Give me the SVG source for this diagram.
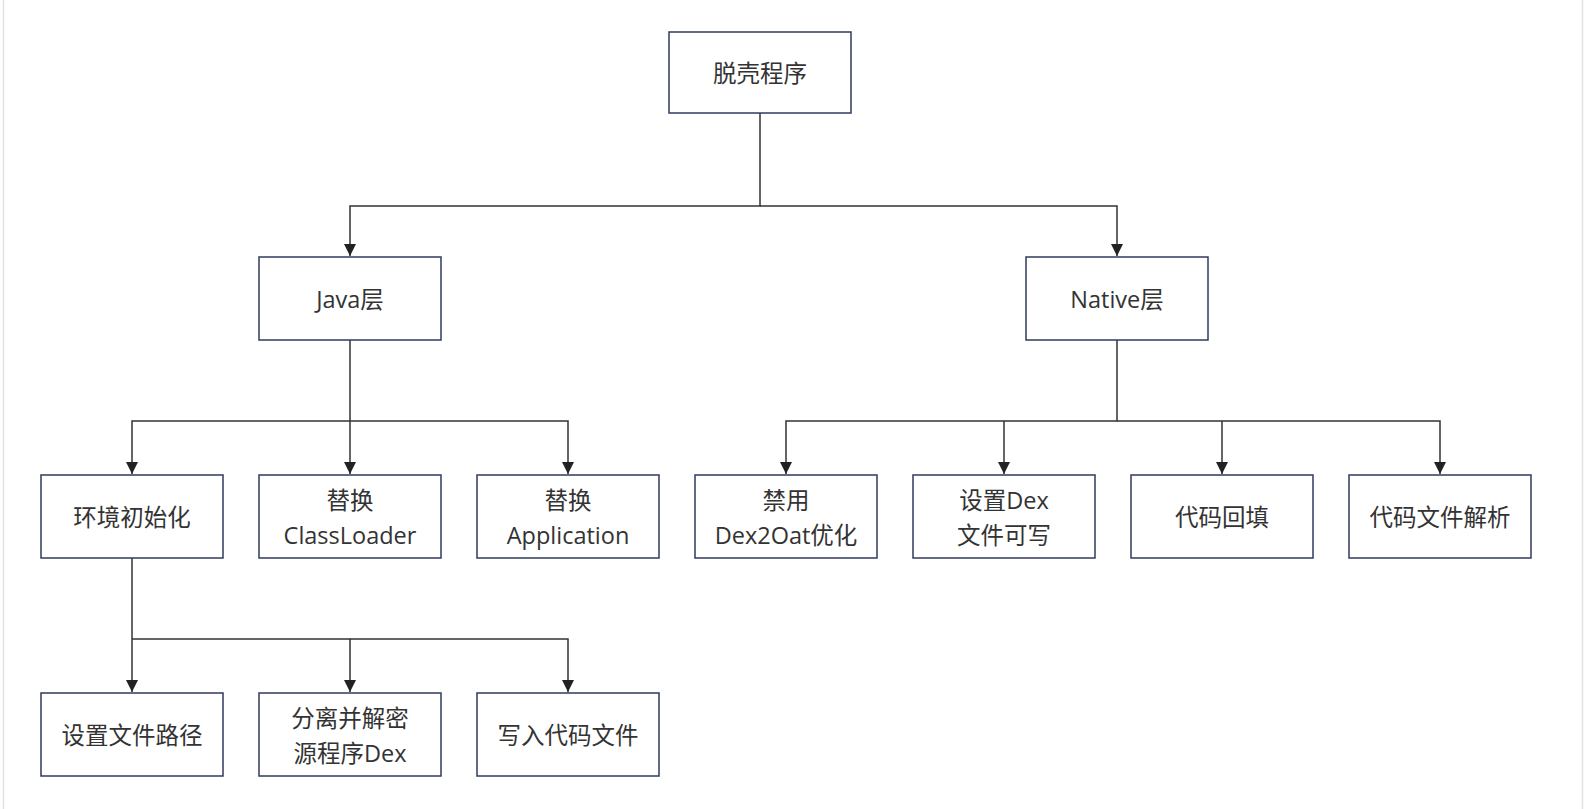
<svg xmlns="http://www.w3.org/2000/svg" width="1584" height="809" viewBox="0 0 1584 809">
<style>
.n rect{fill:#fff;stroke:#2f3a5e;stroke-width:1.5}
.n text{font-family:"Open Sans","Noto Sans CJK SC",sans-serif;font-size:23.5px;fill:#333;text-anchor:middle}
.c path{fill:none;stroke:#333;stroke-width:1.5}
</style>
<defs>
<marker id="a" markerWidth="12" markerHeight="12" refX="10" refY="5" orient="auto" markerUnits="userSpaceOnUse" viewBox="0 0 10 10">
<path d="M0,0 L10,5 L0,10 Z" fill="#222"/>
</marker>
</defs>
<rect x="0" y="0" width="1584" height="809" fill="#fff"/>
<line x1="3.5" y1="0" x2="3.5" y2="809" stroke="#e2e2e2" stroke-width="1.5"/>
<line x1="1582.5" y1="0" x2="1582.5" y2="809" stroke="#e2e2e2" stroke-width="1.5"/>
<g class="c" id="connectors">
<path d="M760,113 V206 H350 V256" marker-end="url(#a)"/>
<path d="M760,206 H1117 V256" marker-end="url(#a)"/>
<path d="M350,340 V474" marker-end="url(#a)"/>
<path d="M350,421 H132 V474" marker-end="url(#a)"/>
<path d="M350,421 H568 V474" marker-end="url(#a)"/>
<path d="M1117,340 V421 H786 V474" marker-end="url(#a)"/>
<path d="M1117,421 H1440 V474" marker-end="url(#a)"/>
<path d="M1004,421 V474" marker-end="url(#a)"/>
<path d="M1222,421 V474" marker-end="url(#a)"/>
<path d="M132,558 V692" marker-end="url(#a)"/>
<path d="M132,639 H350 V692" marker-end="url(#a)"/>
<path d="M350,639 H568 V692" marker-end="url(#a)"/>
</g>
<g class="n" id="root"><rect x="669" y="32" width="182" height="81"/><text x="760" y="82">脱壳程序</text></g>
<g class="n" id="java"><rect x="259" y="257" width="182" height="83"/><text x="350" y="308">Java层</text></g>
<g class="n" id="native"><rect x="1026" y="257" width="182" height="83"/><text x="1117" y="308">Native层</text></g>
<g class="n" id="env"><rect x="41" y="475" width="182" height="83"/><text x="132" y="526">环境初始化</text></g>
<g class="n" id="cl"><rect x="259" y="475" width="182" height="83"/><text x="350" y="509">替换</text><text x="350" y="544">ClassLoader</text></g>
<g class="n" id="app"><rect x="477" y="475" width="182" height="83"/><text x="568" y="509">替换</text><text x="568" y="544">Application</text></g>
<g class="n" id="d2o"><rect x="695" y="475" width="182" height="83"/><text x="786" y="509">禁用</text><text x="786" y="544">Dex2Oat优化</text></g>
<g class="n" id="dexw"><rect x="913" y="475" width="182" height="83"/><text x="1004" y="509">设置Dex</text><text x="1004" y="544">文件可写</text></g>
<g class="n" id="fill"><rect x="1131" y="475" width="182" height="83"/><text x="1222" y="526">代码回填</text></g>
<g class="n" id="parse"><rect x="1349" y="475" width="182" height="83"/><text x="1440" y="526">代码文件解析</text></g>
<g class="n" id="path"><rect x="41" y="693" width="182" height="83"/><text x="132" y="744">设置文件路径</text></g>
<g class="n" id="dec"><rect x="259" y="693" width="182" height="83"/><text x="350" y="727">分离并解密</text><text x="350" y="762">源程序Dex</text></g>
<g class="n" id="write"><rect x="477" y="693" width="182" height="83"/><text x="568" y="744">写入代码文件</text></g>
</svg>
